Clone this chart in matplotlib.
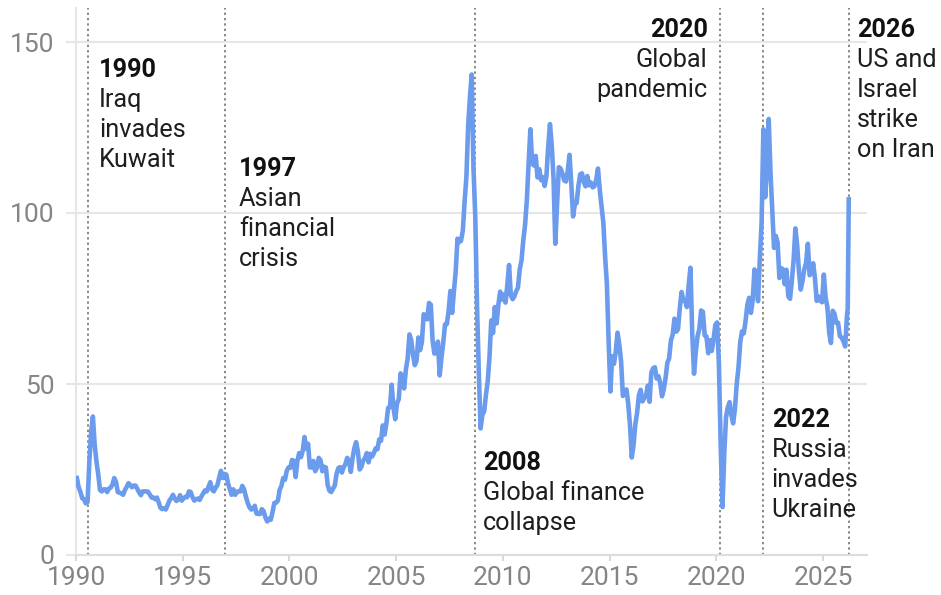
import matplotlib.pyplot as plt
import numpy as np

plt.rcParams['font.family'] = ['Roboto', 'DejaVu Sans']

# Brent crude, USD per barrel, monthly
prices_1990s = [
    22.5, 19.8, 18.4, 16.6, 16.3, 15.1, 15.5, 27.2, 35.9, 40.5, 32.3, 27.3,
    23.6, 19.0, 18.6, 19.2, 19.2, 18.4, 19.4, 19.7, 20.6, 22.5, 21.4, 18.4,
    18.2, 18.0, 17.6, 19.0, 19.9, 21.0, 20.5, 19.8, 20.3, 20.3, 19.3, 18.3,
    17.5, 18.6, 18.6, 18.6, 18.5, 17.7, 16.8, 16.8, 16.3, 16.8, 15.4, 13.8,
    13.4, 13.7, 13.3, 14.6, 15.9, 16.6, 17.6, 16.5, 15.8, 16.2, 17.5, 15.9,
    16.6, 17.0, 16.9, 18.6, 18.4, 16.9, 15.9, 16.3, 16.5, 16.1, 17.1, 18.0,
    18.9, 18.6, 19.9, 21.3, 19.1, 18.6, 19.7, 20.4, 22.6, 24.6, 22.5, 23.7,
    23.5, 20.9, 19.2, 17.6, 19.2, 17.6, 18.5, 18.6, 18.6, 20.2, 19.2, 17.1,
    15.3, 14.0, 13.3, 13.5, 14.4, 12.1, 12.0, 12.0, 13.4, 12.8, 11.0, 9.8,
    10.6, 10.3, 12.5, 15.2, 15.3, 15.9, 19.0, 20.2, 22.5, 22.0, 24.6, 25.6,
]
prices_2000s = [
    25.5, 27.8, 27.5, 22.8, 27.6, 29.8, 28.6, 30.5, 34.5, 31.1, 32.5, 25.6,
    25.6, 27.5, 24.5, 25.6, 28.4, 27.7, 24.5, 25.8, 25.6, 20.5, 18.8, 18.4,
    19.4, 20.3, 23.7, 25.4, 25.7, 24.1, 25.7, 26.6, 28.4, 27.5, 24.3, 28.3,
    31.2, 33.0, 30.3, 25.0, 25.8, 27.6, 28.4, 29.8, 27.1, 29.6, 28.8, 29.8,
    31.2, 30.9, 33.8, 33.4, 37.9, 35.2, 38.4, 43.0, 43.2, 49.8, 43.1, 39.7,
    44.3, 45.6, 53.1, 51.9, 48.7, 54.3, 57.5, 64.5, 62.8, 58.5, 55.5, 56.8,
    63.6, 59.9, 62.3, 70.4, 70.0, 68.9, 73.7, 73.2, 62.8, 58.9, 59.1, 62.4,
    52.5, 57.8, 62.1, 67.4, 67.5, 71.3, 77.2, 70.8, 77.1, 82.9, 92.5, 91.5,
    91.9, 94.8, 103.3, 110.4, 125.4, 133.9, 140.5, 113.0, 99.0, 72.8, 53.2, 37.0,
    41.0, 42.0, 46.8, 50.8, 57.9, 68.6, 64.9, 72.5, 67.7, 73.2, 77.0, 74.7,
]
prices_2010s = [
    76.2, 73.8, 78.8, 84.8, 75.9, 74.8, 75.6, 77.1, 78.2, 83.5, 86.1, 92.0,
    96.5, 103.7, 114.6, 124.5, 114.5, 113.9, 116.7, 110.4, 112.8, 109.6, 110.5, 107.9,
    110.7, 119.3, 126.0, 119.8, 110.3, 91.0, 102.6, 113.4, 113.0, 111.5, 109.5, 109.2,
    112.3, 117.0, 108.5, 99.0, 102.6, 102.9, 107.9, 111.3, 111.6, 109.1, 107.8, 110.8,
    108.1, 108.9, 107.5, 107.8, 109.7, 113.0, 106.9, 101.9, 97.3, 87.3, 79.4, 62.3,
    47.8, 58.1, 55.9, 59.5, 65.0, 61.5, 56.6, 46.5, 47.6, 48.4, 44.3, 38.0,
    28.5, 32.2, 38.2, 41.6, 46.7, 48.3, 44.9, 45.8, 46.6, 49.5, 44.8, 53.3,
    54.6, 54.9, 51.6, 52.3, 50.3, 46.4, 48.5, 51.7, 56.2, 57.5, 62.7, 64.4,
    69.1, 65.3, 66.0, 72.1, 76.9, 74.4, 74.3, 72.5, 78.9, 84.0, 64.8, 53.0,
    59.4, 64.0, 66.1, 71.5, 71.1, 64.2, 63.9, 59.0, 62.8, 59.7, 63.2, 67.3,
]
prices_2020s = [
    68.0, 55.7, 32.0, 14.0, 29.4, 40.3, 43.2, 44.7, 40.9, 38.5, 42.7, 49.9,
    54.8, 62.3, 65.4, 64.8, 68.5, 73.2, 75.2, 70.8, 74.5, 83.5, 81.1, 74.2,
    86.5, 97.1, 124.5, 104.6, 113.3, 127.5, 111.9, 100.5, 89.8, 93.3, 91.4, 81.0,
    83.9, 83.5, 79.2, 83.4, 75.7, 74.9, 80.1, 86.2, 95.5, 90.6, 82.9, 77.6,
    80.1, 83.5, 85.4, 91.0, 81.8, 82.6, 85.3, 80.9, 74.3, 75.6, 74.4, 73.9,
    82.0, 75.2, 72.5, 65.0, 62.0, 71.4, 70.5, 67.9, 67.9, 64.0, 63.6, 62.5,
    61.0, 70.0,
]
# last weeks, March 2026
spike_years = [2026.16, 2026.21]
spike_prices = [72.0, 104.0]

events = [1990.58, 1997.0, 2008.71, 2020.19, 2022.17, 2026.2]
event_years = ['1990', '1997', '2008', '2020', '2022', '2026']
event_texts = ['Iraq\ninvades\nKuwait', 'Asian\nfinancial\ncrisis',
               'Global finance\ncollapse', 'Global\npandemic',
               'Russia\ninvades\nUkraine', 'US and\nIsrael\nstrike\non Iran']
label_x = [1991.08, 1997.64, 2009.07, 2019.6, 2022.6, 2026.6]
label_y = [139.7, 110.8, 24.9, 151.5, 37.5, 151.5]   # baseline of the year line
label_ha = ['left', 'left', 'left', 'right', 'left', 'left']

monthly = prices_1990s + prices_2000s + prices_2010s + prices_2020s
years = 1990 + (np.arange(len(monthly)) + 0.5) / 12
years = np.concatenate([years, spike_years])
prices = np.array(monthly + spike_prices)

fig = plt.figure(figsize=(9.41, 5.95), dpi=100)
ax = fig.add_axes([76 / 941, 1 - 555 / 595, 790.7 / 941, 547.2 / 595])
ax.set_xlim(1990, 2027.05)
ax.set_ylim(0, 160)

grid_c = '#e6e6e6'
ax.set_yticks([0, 50, 100, 150])
ax.set_xticks(np.arange(1990, 2026, 5))
ax.yaxis.grid(True, color=grid_c, lw=1.5, zorder=0)
ax.tick_params(axis='y', length=7.5, width=1.5, color=grid_c, pad=8,
               labelsize=19, labelcolor='#858585')
ax.tick_params(axis='x', length=4, width=1.5, color='#d9d9d9', pad=4,
               labelsize=19, labelcolor='#858585')
for s in ['top', 'right']:
    ax.spines[s].set_visible(False)
ax.spines['left'].set_color(grid_c)
ax.spines['left'].set_linewidth(1.5)
ax.spines['bottom'].set_color('#dddddd')
ax.spines['bottom'].set_linewidth(1.5)

for ev in events:
    ax.axvline(ev, color='#666666', ls=(0, (1.5, 2)), lw=1.1, zorder=1)

ax.plot(years, prices, color='#6b9bec', lw=3.3, solid_joinstyle='round', zorder=3)

fs = 18.2
pitch = 21.6  # points between baselines
for x, y, yr, txt, ha in zip(label_x, label_y, event_years, event_texts, label_ha):
    lines = [yr] + txt.split('\n')
    for i, line in enumerate(lines):
        ax.annotate(line, (x, y), xytext=(0, -i * pitch), textcoords='offset points',
                    ha=ha, va='baseline', fontsize=fs,
                    fontweight='bold' if i == 0 else 'normal',
                    color='#111111' if i == 0 else '#1e1e1e',
                    annotation_clip=False)

fig.savefig('out.png', dpi=100)
